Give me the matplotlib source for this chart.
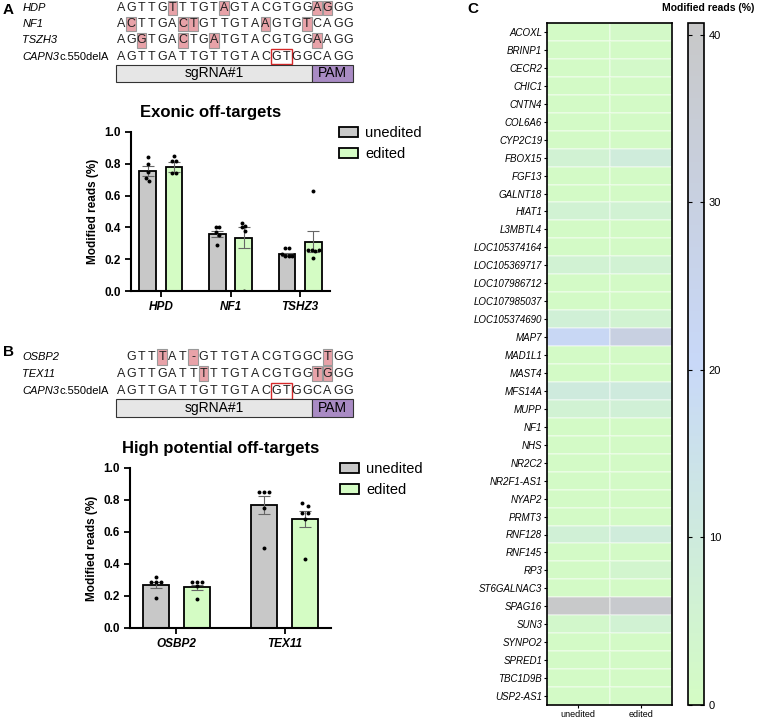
import numpy as np
import matplotlib
matplotlib.use('Agg')
import matplotlib.pyplot as plt
from matplotlib.colors import LinearSegmentedColormap
from matplotlib.patches import Rectangle

plt.rcParams['font.family'] = ['Liberation Sans', 'DejaVu Sans']

W, H = 757, 720

# ---- sequences (panel A / B) ----
ref_name = 'CAPN3'
ref_seq = 'AGTTGATTGTTGTACGTGGCAGG'
seqA_names = ['HDP', 'NF1', 'TSZH3']
seqA = ['AGTTGTTTGTAGTACGTGGAGGG', 'ACTTGACTGTTGTAAGTGTCAGG', 'AGGTGACTGATGTACGTGGAAGG']
seqA_hl = [[5, 10, 19, 20], [1, 6, 7, 14, 18], [2, 6, 9, 19]]
seqB_names = ['OSBP2', 'TEX11']
seqB = [' GTTTAT-GTTGTACGTGGCTGG', 'AGTTGATTTTTGTACGTGGTGGG']
seqB_hl = [[4, 7, 20], [8, 19, 20]]

# ---- bar data ----
genesA = ['HPD', 'NF1', 'TSHZ3']
meanA_unedited = [0.755, 0.36, 0.23]
meanA_edited = [0.78, 0.335, 0.31]
semA_unedited = [0.03, 0.02, 0.01]
semA_edited = [0.03, 0.065, 0.065]
ptsA_unedited = [[0.84, 0.80, 0.75, 0.71, 0.69],
                 [0.40, 0.40, 0.37, 0.35, 0.29],
                 [0.27, 0.27, 0.23, 0.22, 0.22, 0.22]]
ptsA_edited = [[0.85, 0.82, 0.82, 0.74, 0.74],
               [0.43, 0.41, 0.40, 0.38, 0.0],
               [0.63, 0.26, 0.26, 0.25, 0.26, 0.21]]

genesB = ['OSBP2', 'TEX11']
meanB_unedited = [0.27, 0.77]
meanB_edited = [0.255, 0.68]
semB_unedited = [0.02, 0.055]
semB_edited = [0.015, 0.05]
ptsB_unedited = [[0.32, 0.29, 0.29, 0.285, 0.19],
                 [0.85, 0.85, 0.85, 0.75, 0.50]]
ptsB_edited = [[0.29, 0.285, 0.285, 0.26, 0.18],
               [0.78, 0.76, 0.72, 0.72, 0.68, 0.43]]

# ---- heatmap ----
hm_genes = ['ACOXL', 'BRINP1', 'CECR2', 'CHIC1', 'CNTN4', 'COL6A6', 'CYP2C19', 'FBOX15',
            'FGF13', 'GALNT18', 'HIAT1', 'L3MBTL4', 'LOC105374164', 'LOC105369717',
            'LOC107986712', 'LOC107985037', 'LOC105374690', 'MAP7', 'MAD1L1', 'MAST4',
            'MFS14A', 'MUPP', 'NF1', 'NHS', 'NR2C2', 'NR2F1-AS1', 'NYAP2', 'PRMT3',
            'RNF128', 'RNF145', 'RP3', 'ST6GALNAC3', 'SPAG16', 'SUN3', 'SYNPO2',
            'SPRED1', 'TBC1D9B', 'USP2-AS1']
hm_unedited = [1, 1, 1, 1, 1, 1, 1, 6, 1, 1, 6, 1, 1, 6, 1, 1, 7, 22, 1, 1,
               10, 6, 1, 1, 1, 1, 1, 1, 7, 1, 1, 1, 40, 3, 1, 1, 1, 1]
hm_edited = [1.5, 1, 2, 1, 1, 1, 1, 9, 1, 1, 6, 1, 1, 6, 1, 1, 5, 30, 1, 1,
             10, 7, 1, 1, 1, 1, 1, 1, 9, 1, 4, 1, 38, 6, 1, 1, 1, 1]
hm_cols = ['unedited', 'edited']

GRAY = '#c8c8c8'
GREEN = '#d4fcc4'
PINK = '#e8a2a8'


def px_axes(fig, left, top, right, bottom):
    return fig.add_axes([left / W, 1 - bottom / H, (right - left) / W, (bottom - top) / H])


def draw_seq(ax, names, seqs, hls, box_row):
    for r, (name, s, hl) in enumerate(zip(names + [ref_name], seqs + [ref_seq], hls + [[]])):
        if name == ref_name:
            t = ax.text(-9.55, r, 'CAPN3', style='italic', fontsize=8, va='center', ha='left')
            ax.annotate('c.550delA', xy=(1, 0.5), xycoords=t, fontsize=8,
                        va='center', ha='left')
        else:
            ax.text(-9.55, r, name, style='italic', fontsize=8, va='center', ha='left')
        for i, ch in enumerate(s):
            if i in hl:
                ax.add_patch(Rectangle((i - 0.47, r - 0.45), 0.94, 0.9, facecolor=PINK,
                                       edgecolor='#999999', lw=0.8))
            ax.text(i, r, ch, fontsize=9, va='center', ha='center', color='#222222')
    r = len(names)
    ax.add_patch(Rectangle((14.55, r - 0.48), 2.0, 0.96, fill=False, edgecolor='#d62728', lw=1.0))
    ax.add_patch(Rectangle((-0.5, box_row - 0.5), 19.0, 1.05, facecolor='#e6e6e6',
                           edgecolor='#333333', lw=0.8))
    ax.add_patch(Rectangle((18.5, box_row - 0.5), 4.0, 1.05, facecolor='#a98bc4',
                           edgecolor='#333333', lw=0.8))
    ax.text(9.0, box_row + 0.03, 'sgRNA#1', fontsize=10, ha='center', va='center')
    ax.text(20.5, box_row + 0.03, 'PAM', fontsize=10, ha='center', va='center')
    ax.axis('off')


def spread(vals, width=0.05, tol=0.025):
    # place close values side by side
    vals = list(vals)
    offs = [0.0] * len(vals)
    used = [False] * len(vals)
    for i in range(len(vals)):
        if used[i]:
            continue
        grp = [j for j in range(len(vals)) if not used[j] and abs(vals[j] - vals[i]) < tol]
        for k, j in enumerate(grp):
            offs[j] = (k - (len(grp) - 1) / 2) * width
            used[j] = True
    return offs


def draw_bars(ax, genes, m_u, m_e, s_u, s_e, p_u, p_e, title, title_x):
    x = np.arange(len(genes))
    bw, off = 0.24, 0.19
    for sign, m, s, pts, col, lab in [(-1, m_u, s_u, p_u, GRAY, 'unedited'),
                                      (1, m_e, s_e, p_e, GREEN, 'edited')]:
        xs = x + sign * off
        ax.bar(xs, m, width=bw, color=col, edgecolor='black', linewidth=1.3, label=lab, zorder=2)
        ax.errorbar(xs, m, yerr=s, fmt='none', ecolor='#666666', elinewidth=0.8,
                    capsize=4, capthick=0.8, zorder=3)
        for xi, pp in zip(xs, pts):
            o = spread(pp)
            ax.scatter(xi + np.array(o), pp, s=8, color='black', zorder=4, linewidths=0)
    ax.set_xlim(-0.43, len(genes) - 1 + 0.43)
    ax.set_ylim(0, 1.0)
    ax.set_yticks([0, 0.2, 0.4, 0.6, 0.8, 1.0])
    ax.set_yticklabels(['0.0', '0.2', '0.4', '0.6', '0.8', '1.0'], fontweight='bold', fontsize=8.5)
    ax.set_xticks(x)
    ax.set_xticklabels(genes, fontweight='bold', style='italic', fontsize=8.5)
    ax.set_ylabel('Modified reads (%)', fontweight='bold', fontsize=8.5)
    ax.set_title(title, fontweight='bold', fontsize=12, pad=11, x=title_x)
    for sp in ['top', 'right']:
        ax.spines[sp].set_visible(False)
    for sp in ['left', 'bottom']:
        ax.spines[sp].set_linewidth(1.5)
    ax.tick_params(width=1.3, length=4)
    ax.legend(loc='upper left', bbox_to_anchor=(0.98, 1.12), frameon=False, fontsize=10.5,
              handlelength=1.3, handleheight=0.7, labelspacing=0.5, handletextpad=0.5)


fig = plt.figure(figsize=(W / 100, H / 100), dpi=100)

# panel A sequences
axs = px_axes(fig, 0, 0, 360, 90)
axs.set_xlim(-11.72, 23.16)
axs.set_ylim((90 - 8) / 16.2, -8 / 16.2)
draw_seq(axs, seqA_names, seqA, seqA_hl, 4)
fig.text(3 / W, 1 - 10 / H, 'A', fontweight='bold', fontsize=11, va='center')

axa = px_axes(fig, 131, 132, 330, 291)
draw_bars(axa, genesA, meanA_unedited, meanA_edited, semA_unedited, semA_edited,
          ptsA_unedited, ptsA_edited, 'Exonic off-targets', 0.40)

# panel B sequences
axs2 = px_axes(fig, 0, 340, 360, 430)
axs2.set_xlim(-11.72, 23.16)
axs2.set_ylim((90 - 17) / 16.8, -17 / 16.8)
draw_seq(axs2, seqB_names, seqB, seqB_hl, 3)
fig.text(3 / W, 1 - 352 / H, 'B', fontweight='bold', fontsize=11, va='center')

axb = px_axes(fig, 130, 468, 331, 628)
draw_bars(axb, genesB, meanB_unedited, meanB_edited, semB_unedited, semB_edited,
          ptsB_unedited, ptsB_edited, 'High potential off-targets', 0.45)

# panel C heatmap
cmap = LinearSegmentedColormap.from_list('mr', [GREEN, '#c8d8f8', GRAY])
data = np.column_stack([hm_unedited, hm_edited])
axh = px_axes(fig, 547, 23, 672, 705)
mesh = axh.pcolormesh(data, cmap=cmap, vmin=0, vmax=40.7, edgecolors=(1, 1, 1, 0.3),
                      linewidth=0.3)
axh.set_ylim(len(hm_genes), 0)
axh.set_yticks(np.arange(len(hm_genes)) + 0.5)
axh.set_yticklabels(hm_genes, style='italic', fontsize=7)
axh.set_xticks([0.5, 1.5])
axh.set_xticklabels(hm_cols, fontsize=6.5)
axh.tick_params(length=2.5, width=0.8, pad=1)
for sp in axh.spines.values():
    sp.set_linewidth(1.2)

axc = px_axes(fig, 688, 23, 704, 705)
cb = fig.colorbar(mesh, cax=axc)
cb.set_ticks([0, 10, 20, 30, 40])
cb.ax.tick_params(direction='in', left=True, right=True, labelleft=False, labelright=True,
                  length=3, width=0.8, labelsize=8)
cb.outline.set_linewidth(1.2)
fig.text(754 / W, 1 - 8 / H, 'Modified reads (%)', fontweight='bold', fontsize=7.5,
         ha='right', va='center')
fig.text(467 / W, 1 - 9 / H, 'C', fontweight='bold', fontsize=11, va='center')

fig.savefig('out.png', dpi=100)
